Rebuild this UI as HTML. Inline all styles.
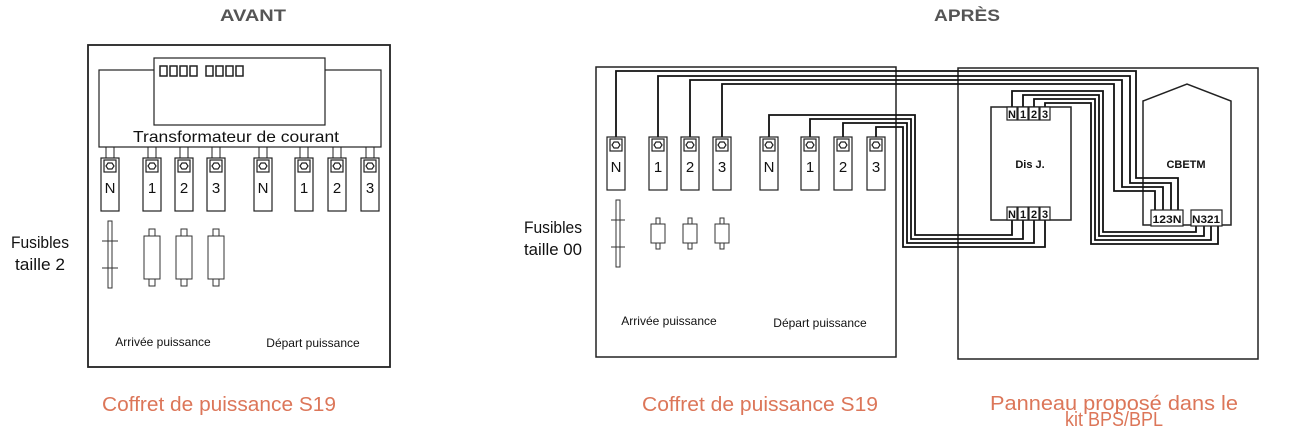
<!DOCTYPE html>
<html><head><meta charset="utf-8"><style>
html,body{margin:0;padding:0;background:#fff;}
svg{display:block;}
text{font-family:"Liberation Sans",sans-serif;fill:#111;}
.h{font-weight:bold;fill:#555;font-size:17px;}
.o{fill:#dc7659;font-size:20px;}
</style></head><body>
<svg width="1302" height="444" viewBox="0 0 1302 444" xmlns="http://www.w3.org/2000/svg">
<defs>
<g id="t" fill="#fff" stroke="#222" stroke-width="1.2">
<rect x="-9" y="0" width="18" height="53"/>
<rect x="-6" y="2" width="12" height="12"/>
<polygon points="-4,8 -2,5 2,5 4,8 2,11 -2,11"/>
</g>
<g id="f" fill="#fff" stroke="#333" stroke-width="1">
<rect x="-3" y="-7" width="6" height="57"/>
<rect x="-8" y="0" width="16" height="43"/>
</g>
<g id="fs" fill="#fff" stroke="#333" stroke-width="1">
<rect x="-2" y="-6" width="4" height="31"/>
<rect x="-7" y="0" width="14" height="19"/>
</g>
</defs>
<text class="h" x="253" y="21" text-anchor="middle" textLength="66" lengthAdjust="spacingAndGlyphs">AVANT</text>
<text class="h" x="967" y="21" text-anchor="middle" textLength="66" lengthAdjust="spacingAndGlyphs">APRÈS</text>

<!-- LEFT -->
<g fill="none" stroke="#222" stroke-width="1.8">
<rect x="88" y="45" width="302" height="322"/>
</g>
<g fill="none" stroke="#222" stroke-width="1.2">
<rect x="99" y="70" width="282" height="77"/>
<rect x="154" y="58" width="171" height="67" fill="#fff"/>
<g stroke-width="1">
<line x1="106" y1="147" x2="106" y2="158"/><line x1="114" y1="147" x2="114" y2="158"/>
<line x1="148" y1="147" x2="148" y2="158"/><line x1="156" y1="147" x2="156" y2="158"/>
<line x1="180" y1="147" x2="180" y2="158"/><line x1="188" y1="147" x2="188" y2="158"/>
<line x1="212" y1="147" x2="212" y2="158"/><line x1="220" y1="147" x2="220" y2="158"/>
<line x1="259" y1="147" x2="259" y2="158"/><line x1="267" y1="147" x2="267" y2="158"/>
<line x1="300" y1="147" x2="300" y2="158"/><line x1="308" y1="147" x2="308" y2="158"/>
<line x1="333" y1="147" x2="333" y2="158"/><line x1="341" y1="147" x2="341" y2="158"/>
<line x1="366" y1="147" x2="366" y2="158"/><line x1="374" y1="147" x2="374" y2="158"/>
</g>
<g stroke-width="1.5">
<rect x="160" y="66" width="7" height="10"/><rect x="170" y="66" width="7" height="10"/><rect x="180" y="66" width="7" height="10"/><rect x="190" y="66" width="7" height="10"/>
<rect x="206" y="66" width="7" height="10"/><rect x="216" y="66" width="7" height="10"/><rect x="226" y="66" width="7" height="10"/><rect x="236" y="66" width="7" height="10"/>
</g>
</g>
<rect x="124" y="128" width="230" height="15" fill="#fff"/>
<text x="236" y="142" text-anchor="middle" font-size="16" textLength="206" lengthAdjust="spacingAndGlyphs">Transformateur de courant</text>
<use href="#t" x="110" y="158"/><use href="#t" x="152" y="158"/><use href="#t" x="184" y="158"/><use href="#t" x="216" y="158"/>
<use href="#t" x="263" y="158"/><use href="#t" x="304" y="158"/><use href="#t" x="337" y="158"/><use href="#t" x="370" y="158"/>
<g font-size="15" text-anchor="middle">
<text x="110" y="193">N</text><text x="152" y="193">1</text><text x="184" y="193">2</text><text x="216" y="193">3</text>
<text x="263" y="193">N</text><text x="304" y="193">1</text><text x="337" y="193">2</text><text x="370" y="193">3</text>
</g>
<g fill="#fff" stroke="#333" stroke-width="1">
<rect x="108" y="221" width="4" height="67"/>
<line x1="102" y1="241" x2="118" y2="241"/><line x1="102" y1="268" x2="118" y2="268"/>
</g>
<use href="#f" x="152" y="236"/><use href="#f" x="184" y="236"/><use href="#f" x="216" y="236"/>
<text x="40" y="248" text-anchor="middle" font-size="17" textLength="58" lengthAdjust="spacingAndGlyphs">Fusibles</text>
<text x="40" y="270" text-anchor="middle" font-size="17" textLength="50" lengthAdjust="spacingAndGlyphs">taille 2</text>
<text x="163" y="346" text-anchor="middle" font-size="12">Arrivée puissance</text>
<text x="313" y="347" text-anchor="middle" font-size="12">Départ puissance</text>
<text class="o" x="219" y="411" text-anchor="middle" textLength="234" lengthAdjust="spacingAndGlyphs">Coffret de puissance S19</text>

<!-- RIGHT boxes -->
<g fill="none" stroke="#222" stroke-width="1.5">
<rect x="596" y="67" width="300" height="290"/>
<rect x="958" y="68" width="300" height="291"/>
<rect x="991" y="107" width="80" height="113"/>
<polygon points="1143,101 1187,84 1231,101 1231,225 1143,225"/>
</g>
<!-- wires -->
<g fill="none" stroke="#111" stroke-width="1.8">
<polyline points="616,137 616,71 1136,71 1136,178 1178,178 1178,210"/>
<polyline points="658,137 658,76 1130,76 1130,183 1171,183 1171,210"/>
<polyline points="690,137 690,80 1122,80 1122,187 1163,187 1163,210"/>
<polyline points="722,137 722,84 1114,84 1114,191 1155,191 1155,210"/>
<polyline points="769,137 769,115 915,115 915,235 1012,235 1012,220"/>
<polyline points="810,137 810,119 911,119 911,239 1023,239 1023,220"/>
<polyline points="843,137 843,123 907,123 907,243 1034,243 1034,220"/>
<polyline points="876,137 876,127 903,127 903,247 1045,247 1045,220"/>
<polyline points="1012,107 1012,91 1103,91 1103,232 1196,232 1196,226"/>
<polyline points="1023,107 1023,95 1099,95 1099,236 1204,236 1204,226"/>
<polyline points="1034,107 1034,99 1095,99 1095,240 1211,240 1211,226"/>
<polyline points="1045,107 1045,103 1091,103 1091,244 1218,244 1218,226"/>
</g>
<use href="#t" x="616" y="137"/><use href="#t" x="658" y="137"/><use href="#t" x="690" y="137"/><use href="#t" x="722" y="137"/>
<use href="#t" x="769" y="137"/><use href="#t" x="810" y="137"/><use href="#t" x="843" y="137"/><use href="#t" x="876" y="137"/>
<g font-size="15" text-anchor="middle">
<text x="616" y="172">N</text><text x="658" y="172">1</text><text x="690" y="172">2</text><text x="722" y="172">3</text>
<text x="769" y="172">N</text><text x="810" y="172">1</text><text x="843" y="172">2</text><text x="876" y="172">3</text>
</g>
<g fill="#fff" stroke="#333" stroke-width="1">
<rect x="616" y="200" width="4" height="67"/>
<line x1="611" y1="220" x2="625" y2="220"/><line x1="611" y1="247" x2="625" y2="247"/>
</g>
<use href="#fs" x="658" y="224"/><use href="#fs" x="690" y="224"/><use href="#fs" x="722" y="224"/>
<text x="582" y="233" text-anchor="end" font-size="17" textLength="58" lengthAdjust="spacingAndGlyphs">Fusibles</text>
<text x="582" y="255" text-anchor="end" font-size="17" textLength="58" lengthAdjust="spacingAndGlyphs">taille 00</text>
<text x="669" y="325" text-anchor="middle" font-size="12">Arrivée puissance</text>
<text x="820" y="327" text-anchor="middle" font-size="12">Départ puissance</text>
<!-- terminal blocks -->
<g fill="#fff" stroke="#222" stroke-width="1.2">
<rect x="1007" y="107" width="10" height="13"/><rect x="1018" y="107" width="10" height="13"/><rect x="1029" y="107" width="10" height="13"/><rect x="1040" y="107" width="10" height="13"/>
<rect x="1007" y="207" width="10" height="13"/><rect x="1018" y="207" width="10" height="13"/><rect x="1029" y="207" width="10" height="13"/><rect x="1040" y="207" width="10" height="13"/>
<rect x="1151" y="210" width="32" height="16"/><rect x="1191" y="210" width="31" height="16"/>
</g>
<g font-size="11" font-weight="bold" text-anchor="middle">
<text x="1012" y="118">N</text><text x="1023" y="118">1</text><text x="1034" y="118">2</text><text x="1045" y="118">3</text>
<text x="1012" y="218">N</text><text x="1023" y="218">1</text><text x="1034" y="218">2</text><text x="1045" y="218">3</text>
<text x="1167" y="223" textLength="29" lengthAdjust="spacingAndGlyphs">123N</text><text x="1206" y="223" textLength="28" lengthAdjust="spacingAndGlyphs">N321</text>
<text x="1030" y="168">Dis J.</text><text x="1186" y="168">CBETM</text>
</g>
<text class="o" x="760" y="411" text-anchor="middle" textLength="236" lengthAdjust="spacingAndGlyphs">Coffret de puissance S19</text>
<text class="o" x="1114" y="410" text-anchor="middle" textLength="248" lengthAdjust="spacingAndGlyphs">Panneau proposé dans le</text>
<text class="o" x="1114" y="426" text-anchor="middle" textLength="98" lengthAdjust="spacingAndGlyphs">kit BPS/BPL</text>
</svg>
</body></html>
